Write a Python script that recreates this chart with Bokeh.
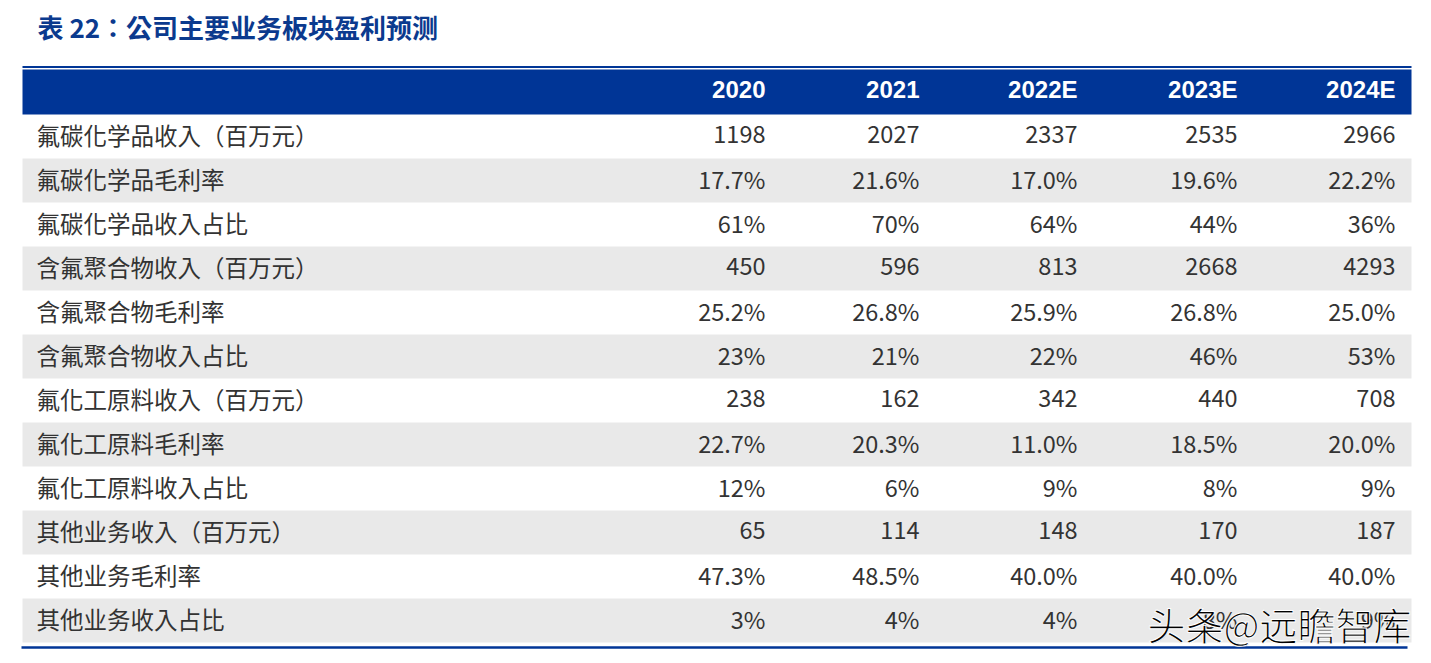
from bokeh.plotting import figure
from bokeh.models import Range1d, ColumnDataSource
from bokeh.core.properties import value
from bokeh.embed import file_html
from bokeh.resources import INLINE

title = "表 22：公司主要业务板块盈利预测"
years = ["2020", "2021", "2022E", "2023E", "2024E"]
row_labels = [
    "氟碳化学品收入（百万元）", "氟碳化学品毛利率", "氟碳化学品收入占比",
    "含氟聚合物收入（百万元）", "含氟聚合物毛利率", "含氟聚合物收入占比",
    "氟化工原料收入（百万元）", "氟化工原料毛利率", "氟化工原料收入占比",
    "其他业务收入（百万元）", "其他业务毛利率", "其他业务收入占比",
]
v2020 = ["1198", "17.7%", "61%", "450", "25.2%", "23%", "238", "22.7%", "12%", "65", "47.3%", "3%"]
v2021 = ["2027", "21.6%", "70%", "596", "26.8%", "21%", "162", "20.3%", "6%", "114", "48.5%", "4%"]
v2022 = ["2337", "17.0%", "64%", "813", "25.9%", "22%", "342", "11.0%", "9%", "148", "40.0%", "4%"]
v2023 = ["2535", "19.6%", "44%", "2668", "26.8%", "46%", "440", "18.5%", "8%", "170", "40.0%", "8%"]
v2024 = ["2966", "22.2%", "36%", "4293", "25.0%", "53%", "708", "20.0%", "9%", "187", "40.0%", "9%"]
watermark = "头条@远瞻智库"

W, H = 1415, 652
# layout in screenshot pixel coordinates
X0, X1 = 22, 1411
HDR_TOP, HDR_BOT = 69, 114
ROW_H = 44
LABEL_X = 36
COL_RIGHT = [765, 919, 1077, 1237, 1395]

BLUE = "#003596"
GRAY = "#e9e9e9"
TXT = "#333333"
CJK = "'Noto Sans CJK TC', 'Noto Sans CJK SC', sans-serif"
HDRF = "'Liberation Sans', Arial, sans-serif"

p = figure(width=W, height=H, x_range=Range1d(0, W), y_range=Range1d(H, 0),
           output_backend="svg", toolbar_location=None, min_border=0,
           outline_line_color=None, background_fill_color="white")
p.axis.visible = False
p.grid.visible = False

# title
p.text(x=[37], y=[26], text=[title], text_font=value(CJK), text_font_style="bold",
       text_font_size="26px", text_color="#0b3a8e", text_baseline="middle", text_align="left")

# top thin line and header bar
p.segment(x0=[X0], y0=[66.5], x1=[X1], y1=[66.5], line_color=BLUE, line_width=2)
p.quad(left=[X0], right=[X1], top=[HDR_TOP], bottom=[HDR_BOT], fill_color=BLUE, line_color=None)

# header labels
p.text(x=COL_RIGHT, y=[89] * len(years), text=years, text_font=value(HDRF),
       text_font_style="bold", text_font_size="24px", text_color="white",
       text_align="right", text_baseline="middle")

# row backgrounds (even rows gray)
n = len(row_labels)
tops = [HDR_BOT + ROW_H * i for i in range(n)]
gray_idx = [i for i in range(n) if i % 2 == 1]
p.quad(left=[X0] * len(gray_idx), right=[X1] * len(gray_idx),
       top=[tops[i] for i in gray_idx], bottom=[tops[i] + ROW_H for i in gray_idx],
       fill_color=GRAY, line_color=None)

ys = [t + ROW_H / 2 - 2 for t in tops]
src = ColumnDataSource(dict(y=ys, label=row_labels))
p.text(x=LABEL_X, y="y", text="label", source=src, text_font=value(CJK),
       text_font_size="23.5px", text_color=TXT, text_align="left", text_baseline="middle")

for xr, col in zip(COL_RIGHT, [v2020, v2021, v2022, v2023, v2024]):
    p.text(x=[xr] * n, y=ys, text=col, text_font=value(CJK), text_font_size="23.5px",
           text_color=TXT, text_align="right", text_baseline="middle")

# bottom line
p.segment(x0=[X0 - 1], y0=[647], x1=[X1 - 4], y1=[647], line_color=BLUE, line_width=2.5)

# watermark
p.text(x=[1411], y=[623], text=[watermark], text_font=value(CJK), text_font_size="38px",
       text_color="black", text_outline_color="white", text_align="right",
       text_baseline="middle")

open("out.html", "w").write(file_html(p, INLINE))
